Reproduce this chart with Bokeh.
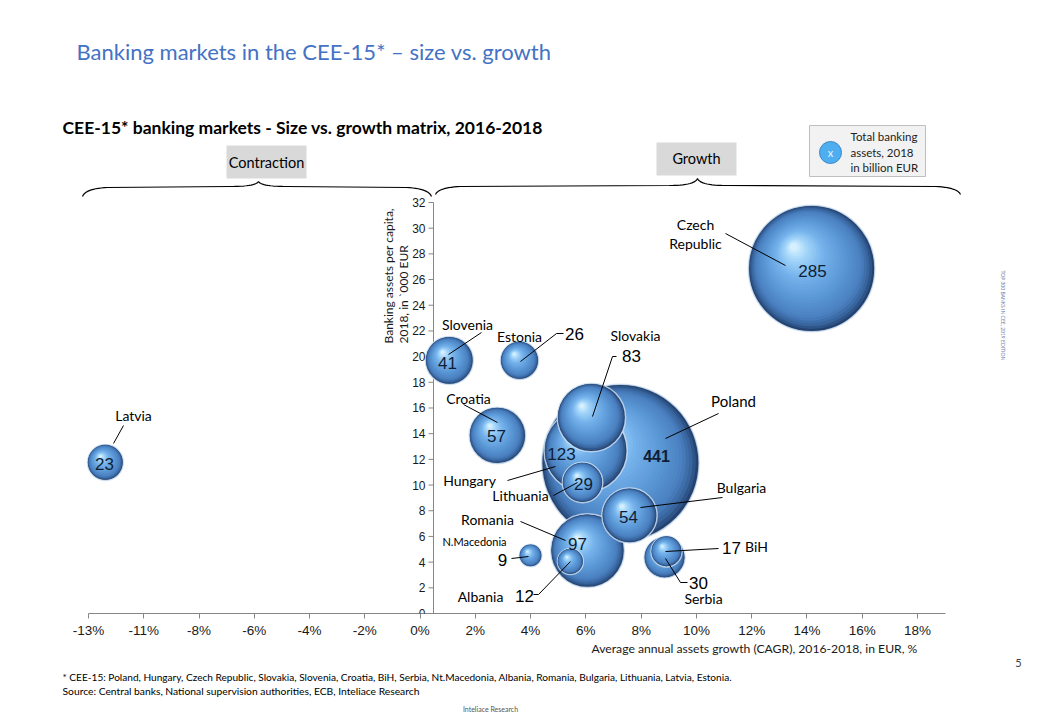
import numpy as np
from bokeh.plotting import figure
from bokeh.layouts import column
from bokeh.models import Range1d, FixedTicker, Label, ColumnDataSource
from bokeh.embed import file_html
from bokeh.resources import INLINE

# ---------------- data ----------------
countries = ["Poland", "Czech Republic", "Hungary", "Romania", "Slovakia", "Croatia",
             "Bulgaria", "Slovenia", "Serbia", "Lithuania", "Estonia", "Latvia",
             "BiH", "Albania", "N.Macedonia"]
assets_bn_eur = [441, 285, 123, 97, 83, 57, 54, 41, 30, 29, 26, 23, 17, 12, 9]
growth_cagr_pct = [7.25, 14.17, 5.99, 6.06, 6.20, 2.80, 7.58, 1.06, 8.85, 5.88, 3.60, -11.39,
                   8.92, 5.44, 4.00]
assets_per_capita = [11.72, 26.86, 12.69, 4.90, 15.26, 13.86, 7.63, 19.70, 4.36, 10.20, 19.70,
                     11.76, 4.83, 4.05, 4.52]

xtick_values = [-12, -10, -8, -6, -4, -2, 0, 2, 4, 6, 8, 10, 12, 14, 16, 18]
xtick_labels = ["-13%", "-11%", "-8%", "-6%", "-4%", "-2%", "0%", "2%", "4%", "6%", "8%",
                "10%", "12%", "14%", "16%", "18%"]
ytick_values = [0, 2, 4, 6, 8, 10, 12, 14, 16, 18, 20, 22, 24, 26, 28, 30, 32]

# ---------------- layout helpers (page pixels -> data) ----------------
XPX, X0 = 27.63, 419.6
YPX, Y0 = 12.844, 613.0


def X(px):
    return (px - X0) / XPX


def Y(py):
    return (Y0 - py) / YPX


LATO = "Lato"
ARIAL = "Liberation Sans"
NARROW = "Liberation Sans Narrow, Liberation Sans"

W = 1040
TOP_H = 640
FRAME_L = 60
p = figure(width=W, height=TOP_H, x_range=Range1d(X(FRAME_L), X(W)),
           y_range=Range1d(0, Y(0)), output_backend="svg", toolbar_location=None,
           title=None, y_axis_location=None,
           min_border_left=FRAME_L, min_border_right=0, min_border_top=0,
           min_border_bottom=TOP_H - 613)
p.outline_line_color = None
p.background_fill_color = "white"
p.border_fill_color = "white"
p.xgrid.visible = False
p.ygrid.visible = False

# x axis
ax = p.xaxis[0]
ax.ticker = FixedTicker(ticks=xtick_values)
ax.major_label_overrides = {v: l for v, l in zip(xtick_values, xtick_labels)}
ax.bounds = (xtick_values[0], 19.0)
ax.axis_line_color = "#868686"
ax.major_tick_line_color = "#868686"
ax.major_tick_out = 5
ax.major_tick_in = 0
ax.minor_tick_line_color = None
ax.major_label_text_font = NARROW
ax.major_label_text_font_size = "13.5px"
ax.major_label_text_color = "#1a1a1a"
ax.major_label_standoff = 4

# manual y axis crossing at growth ~0.4%
yx = X(433)
p.segment(x0=[yx], y0=[ytick_values[0]], x1=[yx], y1=[ytick_values[-1]],
          line_color="#868686", line_width=1)
p.segment(x0=[yx - 5 / XPX] * len(ytick_values), y0=ytick_values,
          x1=[yx] * len(ytick_values), y1=ytick_values, line_color="#868686", line_width=1)
for v in ytick_values:
    p.add_layout(Label(x=yx, y=v, text=str(v), x_offset=-8, text_align="right",
                       text_baseline="middle", text_font=ARIAL, text_font_size="12px",
                       text_color="#1a1a1a"))

# ---------------- bubbles (layered shading) ----------------
STOPS = [(0.00, "#244270"), (0.06, "#36629A"), (0.16, "#4A80C0"), (0.40, "#5C99D7"),
         (0.66, "#76B3EC"), (0.86, "#A2D5F9"), (1.00, "#D6F0FF")]


def _hex(c):
    return np.array([int(c[i:i + 2], 16) for i in (1, 3, 5)], float)


def shade(t):
    for (t0, c0), (t1, c1) in zip(STOPS[:-1], STOPS[1:]):
        if t <= t1:
            u = (t - t0) / (t1 - t0)
            rgb = (1 - u) * _hex(c0) + u * _hex(c1)
            return "#%02x%02x%02x" % tuple(int(round(v)) for v in rgb)
    return STOPS[-1][1]


NL = 30
order = np.argsort(-np.array(assets_bn_eur), kind="stable")
bx, by, bs, bc, bla = [], [], [], [], []
for i in order:
    r = 3.75 * np.sqrt(assets_bn_eur[i])
    for k in range(NL):
        t = k / (NL - 1)
        f = 1 - 0.94 * t
        ox, oy = -0.28 * t, 0.34 * t
        bx.append(growth_cagr_pct[i] + ox * r / XPX)
        by.append(assets_per_capita[i] + oy * r / YPX)
        bs.append(2 * f * r)
        bc.append(shade(t))
        bla.append(0.8 if k == 0 else 0.0)
src = ColumnDataSource(dict(x=bx, y=by, size=bs, color=bc, la=bla))
p.scatter(x="x", y="y", size="size", fill_color="color", line_color="#D2E3F4",
          line_alpha="la", line_width=1.5, source=src)

# ---------------- leader lines ----------------
leaders = [
    [(481, 332), (448, 354)],
    [(563, 333), (556, 333), (520, 361)],
    [(616, 356), (612, 356), (592, 416)],
    [(463, 404), (497, 422)],
    [(718, 413), (665, 438)],
    [(507, 480), (555, 466)],
    [(553, 495), (577, 482)],
    [(722, 497), (640, 507)],
    [(520, 521), (565, 540)],
    [(511, 558), (528, 556)],
    [(533, 594), (538, 594), (570, 561)],
    [(718, 548), (665, 551)],
    [(687, 582), (680, 582), (665, 558)],
    [(725, 233), (785, 265)],
    [(123, 425), (113, 443)],
]
p.multi_line(xs=[[X(a) for a, b in L] for L in leaders],
             ys=[[Y(b) for a, b in L] for L in leaders], line_color="#000000", line_width=1)

# ---------------- bubble annotations ----------------
INK = "#0F1E36"
notes = [
    ("Slovenia", 467, 324, "center", LATO, 14, "normal", "#000"),
    ("41", 447, 362, "center", ARIAL, 17, "normal", INK),
    ("Estonia", 519, 336, "center", LATO, 14, "normal", "#000"),
    ("26", 574, 333, "center", ARIAL, 17, "normal", "#000"),
    ("Slovakia", 635, 335, "center", LATO, 14, "normal", "#000"),
    ("83", 631, 355, "center", ARIAL, 17, "normal", "#000"),
    ("Croatia", 468, 398, "center", LATO, 14, "normal", "#000"),
    ("57", 496, 435, "center", ARIAL, 17, "normal", INK),
    ("Poland", 733, 400, "center", LATO, 15, "normal", "#000"),
    ("441", 656, 455, "center", ARIAL, 16, "bold", INK),
    ("123", 561, 453, "center", ARIAL, 17, "normal", INK),
    ("Hungary", 469, 480, "center", LATO, 14, "normal", "#000"),
    ("Lithuania", 520, 495, "center", LATO, 14, "normal", "#000"),
    ("29", 583, 483, "center", ARIAL, 17, "normal", INK),
    ("Bulgaria", 741, 487, "center", LATO, 14, "normal", "#000"),
    ("54", 628, 516, "center", ARIAL, 17, "normal", INK),
    ("Romania", 487, 519, "center", LATO, 14, "normal", "#000"),
    ("97", 577, 543, "center", ARIAL, 17, "normal", INK),
    ("N.Macedonia", 474, 541, "center", LATO, 11, "normal", "#000"),
    ("9", 502, 559, "center", ARIAL, 17, "normal", "#000"),
    ("Albania", 480, 596, "center", LATO, 14, "normal", "#000"),
    ("12", 524, 595, "center", ARIAL, 17, "normal", "#000"),
    ("17", 731, 547, "center", ARIAL, 17, "normal", "#000"),
    ("BiH", 756, 546, "center", LATO, 14, "normal", "#000"),
    ("30", 698, 582, "center", ARIAL, 17, "normal", "#000"),
    ("Serbia", 703, 598, "center", LATO, 14, "normal", "#000"),
    ("Czech", 695, 224, "center", LATO, 14, "normal", "#000"),
    ("Republic", 695, 243, "center", LATO, 14, "normal", "#000"),
    ("285", 812, 270, "center", ARIAL, 17, "normal", INK),
    ("Latvia", 133, 415, "center", LATO, 14, "normal", "#000"),
    ("23", 104, 463, "center", ARIAL, 17, "normal", INK),
]
for t, px, py, al, fnt, sz, st, col in notes:
    p.add_layout(Label(x=X(px), y=Y(py), text=t, text_align=al, text_baseline="middle",
                       text_font=fnt, text_font_size=f"{sz}px", text_font_style=st,
                       text_color=col))


# ---------------- braces ----------------
def qbez(a, c, b, n=14):
    t = np.linspace(0, 1, n)[:, None]
    a, c, b = np.array(a, float), np.array(c, float), np.array(b, float)
    return (1 - t) ** 2 * a + 2 * (1 - t) * t * c + t ** 2 * b


def brace(xa, xm, xb, yb, yp, ye):
    segs = [
        qbez((xa, ye), (xa + 3, yb + 1), (xa + 25, yb)),
        qbez((xm - 28, yb - 1), (xm - 3, yb - 1), (xm, yp)),
        qbez((xm, yp), (xm + 3, yb - 1), (xm + 28, yb - 1)),
        qbez((xb - 25, yb), (xb - 3, yb + 1), (xb, ye)),
    ]
    pts = np.vstack(segs)
    return [X(v) for v in pts[:, 0]], [Y(v) for v in pts[:, 1]]


for xa, xm, xb, yb, yp, ye in [(82, 258, 431, 187, 181, 196), (435, 697, 960, 186, 178, 194)]:
    bxs, bys = brace(xa, xm, xb, yb, yp, ye)
    p.line(bxs, bys, line_color="#000000", line_width=1.2)

# ---------------- header boxes & legend ----------------
p.quad(left=[X(226), X(656)], right=[X(306), X(736)], top=[Y(145), Y(142)],
       bottom=[Y(178), Y(175)], fill_color="#D9D9D9", line_color=None)
p.add_layout(Label(x=X(266), y=Y(162), text="Contraction", text_align="center",
                   text_baseline="middle", text_font=LATO, text_font_size="14.5px",
                   text_color="#000"))
p.add_layout(Label(x=X(696), y=Y(158), text="Growth", text_align="center",
                   text_baseline="middle", text_font=LATO, text_font_size="14.5px",
                   text_color="#000"))

p.quad(left=[X(809)], right=[X(925)], top=[Y(125)], bottom=[Y(176)],
       fill_color="#F2F2F2", line_color="#BFBFBF", line_width=1)
p.scatter(x=[X(830)], y=[Y(152)], size=22, fill_color="#4EAEF0", line_color="#3A8ACB",
          line_width=1)
p.add_layout(Label(x=X(830), y=Y(152), text="x", text_align="center", text_baseline="middle",
                   text_font=LATO, text_font_size="11px", text_color="#EAF5FF"))
for t, py in [("Total banking", 136), ("assets, 2018", 152), ("in billion EUR", 167)]:
    p.add_layout(Label(x=X(850), y=Y(py), text=t, text_align="left", text_baseline="middle",
                       text_font=LATO, text_font_size="11.5px", text_color="#222"))

# ---------------- titles ----------------
p.add_layout(Label(x=X(76), y=Y(51), text="Banking markets in the CEE-15* \u2013 size vs. growth",
                   text_align="left", text_baseline="middle", text_font=LATO,
                   text_font_size="22px", text_color="#4472C4"))
p.add_layout(Label(x=X(62), y=Y(127), text="CEE-15* banking markets - Size vs. growth matrix, 2016-2018",
                   text_align="left", text_baseline="middle", text_font=LATO,
                   text_font_size="17.5px", text_font_style="bold", text_color="#000"))

# y axis title (rotated)
p.add_layout(Label(x=X(388), y=Y(343), text="Banking assets per capita,", angle=np.pi / 2,
                   text_align="left", text_baseline="middle", text_font=LATO,
                   text_font_size="12px", text_color="#1a1a1a"))
p.add_layout(Label(x=X(403), y=Y(343), text="2018, in `000 EUR", angle=np.pi / 2,
                   text_align="left", text_baseline="middle", text_font=LATO,
                   text_font_size="12px", text_color="#1a1a1a"))

p.add_layout(Label(x=X(1002), y=Y(270), text="TOP 300 BANKS IN CEE, 2019 EDITION",
                   angle=-np.pi / 2, text_align="left", text_baseline="middle",
                   text_font=LATO, text_font_size="5px", text_color="#6A7FA8"))

# ---------------- bottom strip (axis title, footnotes) in page pixels ----------------
# the column layout aligns this strip's frame with the chart frame (left edge at FRAME_L)
q = figure(width=W, height=720 - TOP_H, x_range=Range1d(FRAME_L, W),
           y_range=Range1d(720, TOP_H),
           output_backend="svg", toolbar_location=None, title=None,
           x_axis_location=None, y_axis_location=None,
           min_border_left=FRAME_L, min_border_right=0, min_border_top=0, min_border_bottom=0)
q.outline_line_color = None
q.xgrid.visible = False
q.ygrid.visible = False
q.background_fill_color = "white"
q.border_fill_color = "white"

bottom_texts = [
    ("Average annual assets growth (CAGR),  2016-2018, in EUR, %", 920, 640, "right", "top",
     "12.2px", "#1a1a1a"),
    ("5", 1018, 662, "center", "middle", "11px", "#404040"),
    (" * CEE-15: Poland, Hungary, Czech Republic, Slovakia, Slovenia, Croatia, BiH, Serbia, "
     "Nt.Macedonia, Albania, Romania, Bulgaria, Lithuania, Latvia, Estonia.", 62, 676, "left",
     "middle", "10.1px", "#000"),
    ("Source: Central banks, National supervision authorities, ECB,  Inteliace Research", 62, 690,
     "left", "middle", "10.3px", "#000"),
    ("Inteliace Research", 490, 708, "center", "middle", "7px", "#555"),
]
for t, px, py, al, bl, sz, col in bottom_texts:
    q.add_layout(Label(x=px, y=py, text=t, text_align=al, text_baseline=bl, text_font=LATO,
                       text_font_size=sz, text_color=col))

layout = column(p, q, spacing=0)
open("out.html", "w").write(file_html(layout, INLINE))
